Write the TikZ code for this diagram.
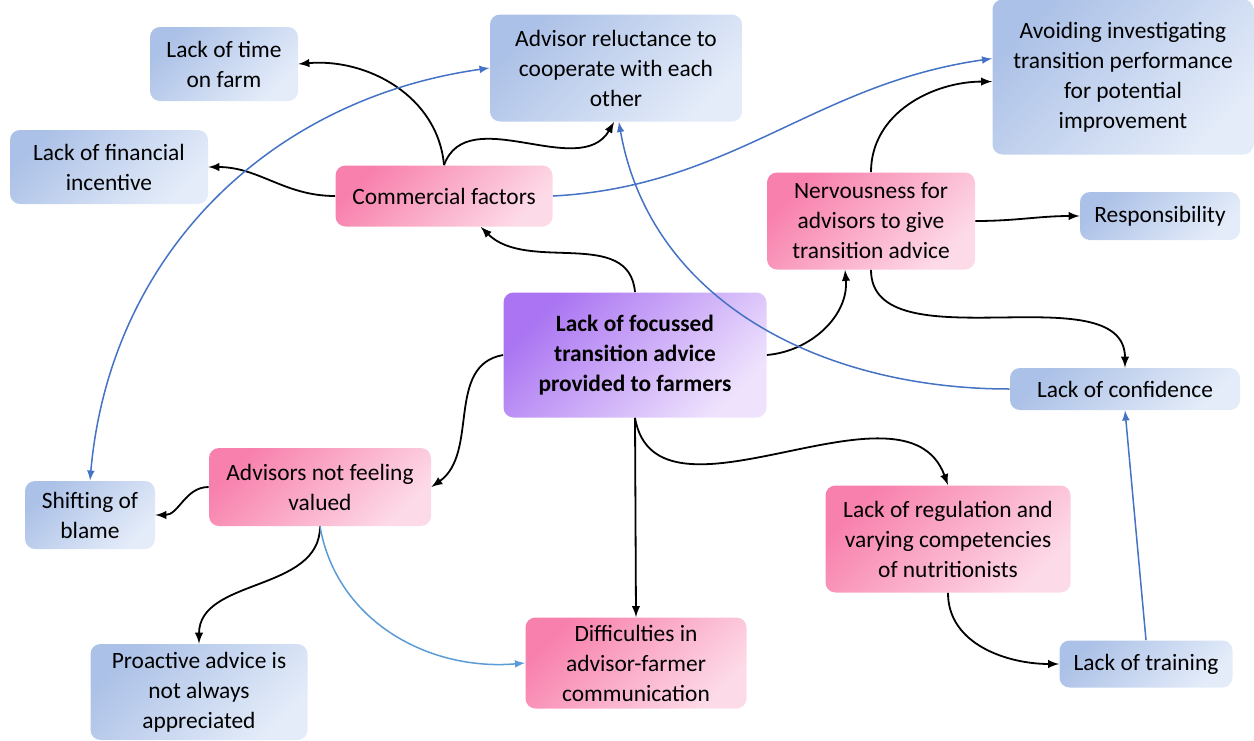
\documentclass[tikz,border=0pt]{standalone}
\usepackage{fontspec}
\setmainfont{Carlito}
\usepackage{tikz}
\usetikzlibrary{calc}

\definecolor{bluedark}{RGB}{172,193,231}
\definecolor{bluelight}{RGB}{228,236,249}
\definecolor{pinkdark}{RGB}{248,128,172}
\definecolor{pinklight}{RGB}{253,218,231}
\definecolor{purpledark}{RGB}{170,116,242}
\definecolor{purplelight}{RGB}{238,226,253}
\definecolor{linkblue}{RGB}{68,114,196}
\definecolor{linklight}{RGB}{91,155,213}

\tikzset{
  box/.style={rounded corners=5pt, align=center, inner sep=1pt,
    font=\fontsize{11.7}{15}\selectfont},
  bluebox/.style={box, top color=bluedark, bottom color=bluelight, shading angle=45},
  pinkbox/.style={box, top color=pinkdark, bottom color=pinklight, shading angle=45},
  corebox/.style={box, top color=purpledark, bottom color=purplelight, shading angle=45,
    font=\fontsize{11.7}{15}\selectfont\bfseries},
  cause/.style={->, line width=0.9pt, black},
  link/.style={->, line width=0.75pt, linkblue},
}

\begin{document}
\begin{tikzpicture}[x=0.5pt,y=-0.5pt,>=latex]
\useasboundingbox (0,0) rectangle (1254,740);

% the core problem
\node[corebox, minimum width=131.5pt, minimum height=62.5pt] (core) at (635,355)
  {Lack of focussed\\transition advice\\provided to farmers};

% the pink factors
\foreach \n/\x/\y/\w/\h/\t in {
	commercial/444/196/108.5/30.5/{Commercial factors},
	nervous/871/221/104/48.5/{Nervousness for\\advisors to give\\transition advice},
	valued/320/487/111/39/{Advisors not feeling\\valued},
	regulation/948/539/122.5/53.5/{Lack of regulation and\\varying competencies\\of nutritionists},
	difficulties/636/663/110.5/45.5/{Difficulties in\\advisor-farmer\\communication}}
\node[pinkbox, minimum width=\w pt, minimum height=\h pt] (\n) at (\x,\y) {\t};

% the blue consequences
\foreach \n/\x/\y/\w/\h/\t in {
	time/224/64/74/37/{Lack of time\\on farm},
	reluct/616/68/126/53.5/{Advisor reluctance to\\cooperate with each\\other},
	avoid/1123/77/130.5/77.5/{Avoiding investigating\\transition performance\\for potential\\improvement},
	financial/109/167/99/37/{Lack of financial\\incentive},
	respons/1160/216/80/24/{Responsibility},
	confidence/1125/389/115/21/{Lack of confidence},
	blame/90/515/65/34/{Shifting of\\blame},
	proactive/199/692/108.5/48/{Proactive advice is\\not always\\appreciated},
	training/1146/664/86.5/23.5/{Lack of training}}
\node[bluebox, minimum width=\w pt, minimum height=\h pt] (\n) at (\x,\y) {\t};

% black links
\draw[cause] (core.north) to[out=95,in=-45] (commercial.-40);
\draw[cause] (commercial.north) to[out=95,in=5] (time.east);
\draw[cause] (commercial.north) to[out=70,in=-120] (reluct.-92);
\draw[cause] (commercial.west) to[out=180,in=0] (financial.east);
\draw[cause] (core.east) to[out=5,in=-85] (nervous.-118);
\draw[cause] (nervous.north) to[out=90,in=180] (avoid.182);
\draw[cause] (nervous.east) to[out=0,in=180] (respons.west);
\draw[cause] (nervous.south) to[out=-90,in=90,looseness=0.9] (confidence.north);
\draw[cause] (core.west) to[out=190,in=35] (valued.east);
\draw[cause] (valued.west) to[out=180,in=0] (blame.east);
\draw[cause] (valued.south) to[out=-90,in=90] (proactive.north);
\draw[cause] (core.south) -- (difficulties.north);
\draw[cause] (core.south) to[out=-80,in=110] (regulation.north);
\draw[cause] (regulation.south) to[out=-90,in=180] (training.west);

% blue links
\draw[link,<->] (blame.north) to[out=85,in=188] (reluct.west);
\draw[link] (commercial.east) to[out=3,in=188] (avoid.172);
\draw[link] (confidence.west) to[out=180,in=-80] (reluct.-87);
\draw[link] (training.north) -- (confidence.south);
\draw[link,linklight] (valued.south) to[out=-80,in=185] (difficulties.west);
\end{tikzpicture}
\end{document}
